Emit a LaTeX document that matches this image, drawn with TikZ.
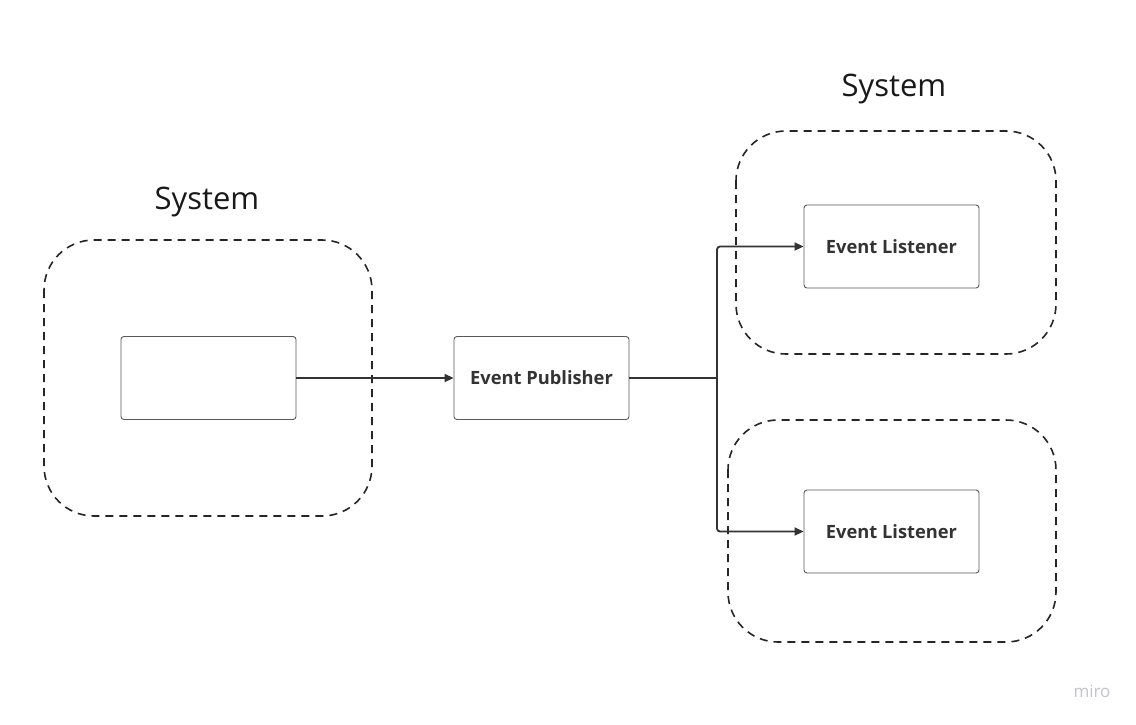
\documentclass[tikz,border=0pt]{standalone}
\usepackage{fontspec}
\setmainfont{Open Sans}
\usetikzlibrary{arrows.meta}
\definecolor{ink}{HTML}{333333}
\definecolor{boxline}{HTML}{5A5A5A}
\definecolor{logo}{HTML}{C4C4C8}
\tikzset{
  sysbox/.style={draw=black!85, line width=1.6pt, dash pattern=on 8pt off 6pt, rounded corners=50pt},
  compbox/.style={draw=boxline, line width=0.9pt, rounded corners=3pt, minimum width=175pt, minimum height=83pt, inner sep=0pt, font=\fontsize{18.3}{22}\selectfont\bfseries, text=ink},
  syslabel/.style={font=\fontsize{31}{36}\selectfont, text=black!90},
  conn/.style={draw=ink, line width=1.8pt, -{Triangle[length=9pt,width=8pt]}},
}
\begin{document}
\begin{tikzpicture}[x=1pt,y=-1pt]
\useasboundingbox[fill=white] (0,0) rectangle (1136,724);
% dashed system regions
\draw[sysbox] (44,240) rectangle (372,516);
\draw[sysbox] (736,131) rectangle (1056,354);
\draw[sysbox] (728,420) rectangle (1056,642);
\node[syslabel] (l1) at (207,202) {System};
\node[syslabel] (l2) at (894,89) {System};
% components
\node[compbox] (src) at (208.5,378) {};
\node[compbox] (pub) at (541.5,378) {Event Publisher};
\node[compbox] (lis1) at (891.5,246.5) {Event Listener};
\node[compbox] (lis2) at (891.5,531.5) {Event Listener};
\coordinate (j) at (717,378);
% connectors
\draw[conn] (src.east) -- (pub.west);
\draw[draw=ink, line width=1.8pt] (pub.east) -- (j);
\draw[conn, rounded corners=3pt] (j) |- (lis1.west);
\draw[conn, rounded corners=3pt] (j) |- (lis2.west);
\node[font=\fontsize{17}{20}\selectfont, text=logo] (miro) at (1092,691) {miro};
\end{tikzpicture}
\end{document}
